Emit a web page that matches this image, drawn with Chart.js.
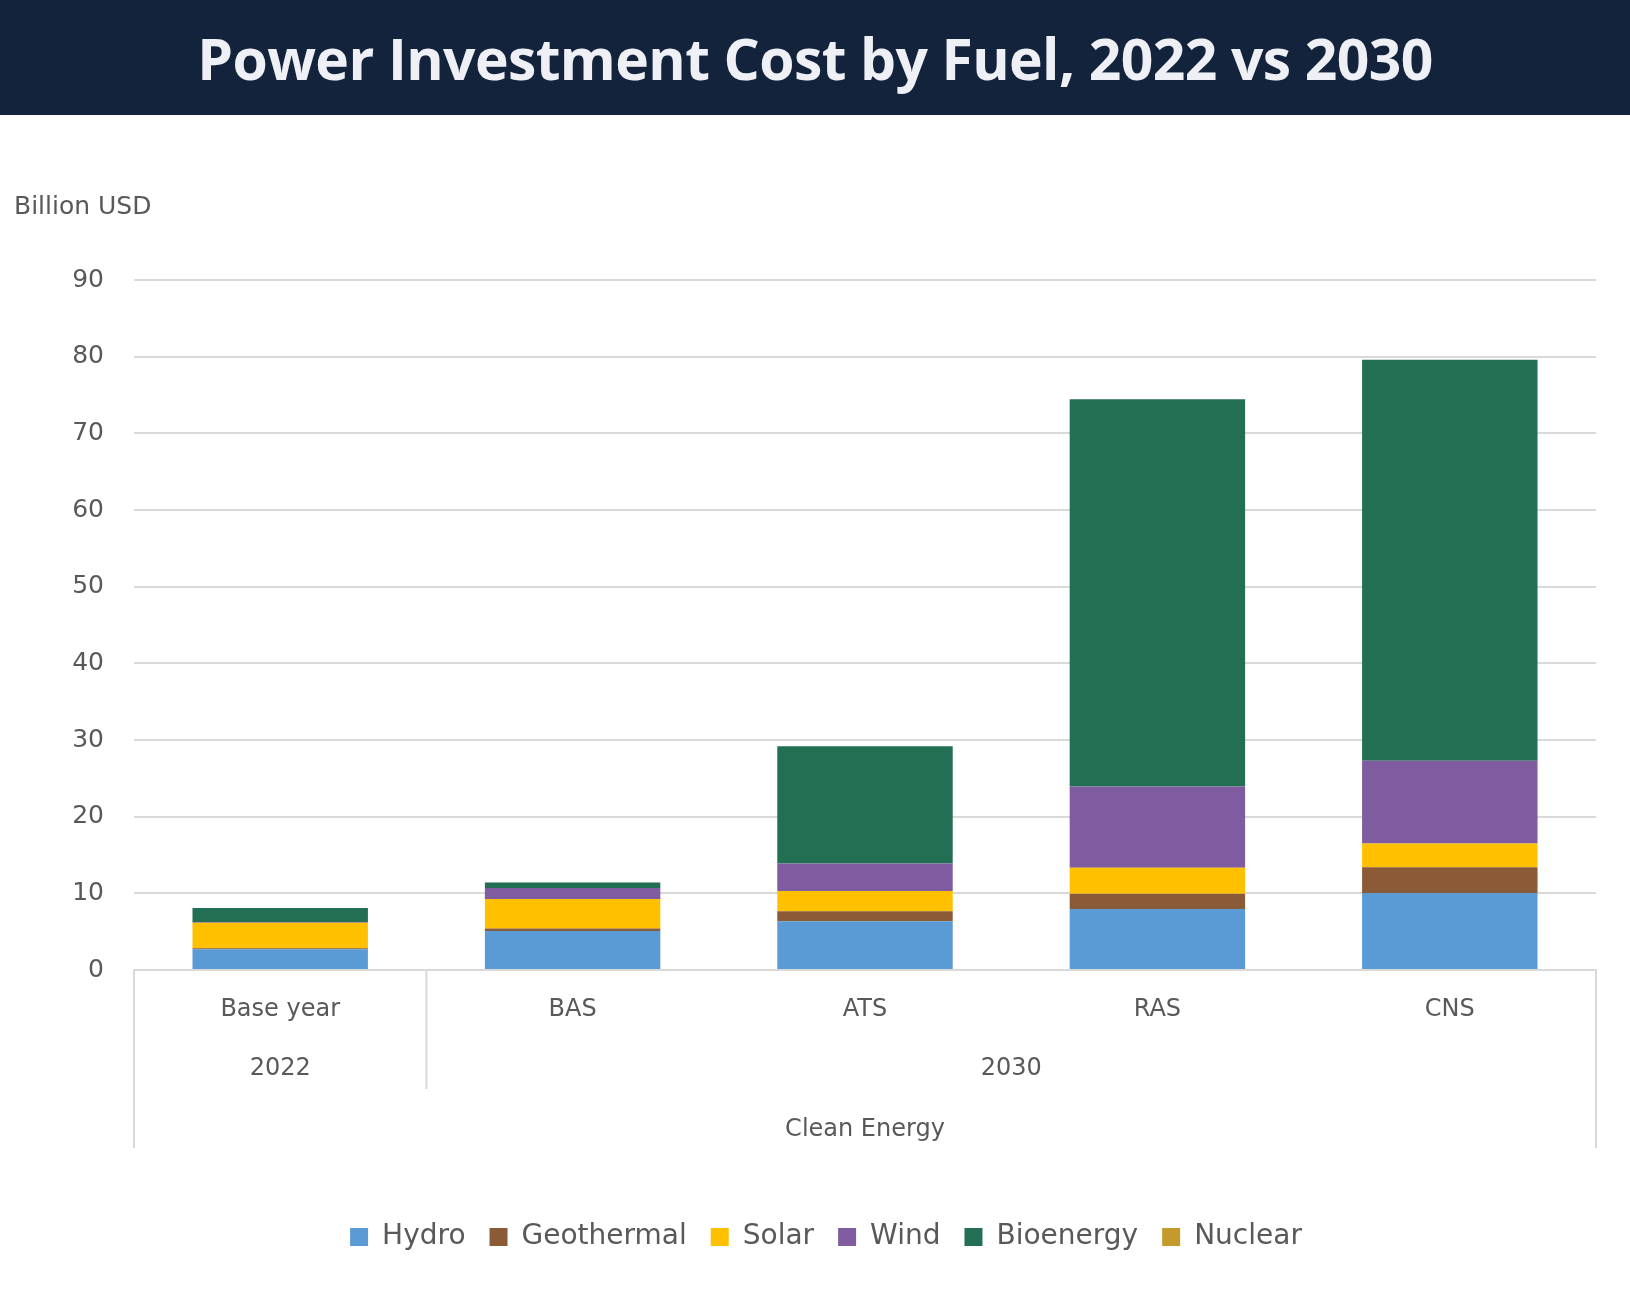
<!DOCTYPE html>
<html>
<head>
<meta charset="utf-8">
<script src="https://cdn.jsdelivr.net/npm/chart.js@4.4.1/dist/chart.umd.min.js"></script>
<style>
  html, body { margin: 0; padding: 0; background: #ffffff; }
  #header {
    width: 1630px; height: 115px; background: #13233c;
    display: flex; align-items: center; justify-content: center;
  }
  #header h1 {
    margin: 0; color: #eef0f6; font-family: "Open Sans", sans-serif;
    font-weight: 700; font-size: 57px; letter-spacing: -0.6px;
  }
  #wrap { width: 1630px; height: 1186px; position: relative; }
</style>
</head>
<body>
<div id="header"><h1>Power Investment Cost by Fuel, 2022 vs 2030</h1></div>
<div id="wrap"><canvas id="chart"></canvas></div>
<script>
// categories and groups
const categories = ["Base year", "BAS", "ATS", "RAS", "CNS"];
const years = ["2022", "2030"];
const groupLabel = "Clean Energy";

// series values (Billion USD)
const hydro = [2.7, 5.1, 6.35, 7.95, 10.05];
const geothermal = [0.15, 0.3, 1.3, 2.0, 3.35];
const solar = [3.3, 3.85, 2.65, 3.4, 3.1];
const wind = [0.1, 1.45, 3.6, 10.6, 10.8];
const bioenergy = [1.85, 0.7, 15.3, 50.5, 52.3];
const nuclear = [0, 0, 0, 0, 0];

const yTicks = [0, 10, 20, 30, 40, 50, 60, 70, 80, 90];

const fuelColors = {
  Hydro: "#5b9bd5",
  Geothermal: "#8b5a36",
  Solar: "#ffc000",
  Wind: "#7f5ba0",
  Bioenergy: "#236f54",
  Nuclear: "#c39a2b",
};

const textGrey = "#595959";
const lineGrey = "#d9d9d9";
const fontFamily = "'DejaVu Sans', sans-serif";

function makeSet(label, data) {
  return {
    label: label,
    data: data,
    backgroundColor: fuelColors[label],
    borderWidth: 0,
    barPercentage: 0.6,
    categoryPercentage: 1.0,
  };
}

// draws the "Billion USD" label and the multi-level category axis
const groupAxisPlugin = {
  id: "groupAxis",
  afterLayout(chart) {
    // legend sits a little right of centre in the original
    chart.legend.left += 28;
    chart.legend.right += 28;
  },
  afterDraw(chart) {
    const ctx = chart.ctx;
    const x = chart.scales.x;
    const area = chart.chartArea;
    const base = area.bottom;

    ctx.save();
    ctx.fillStyle = textGrey;
    ctx.font = "25px " + fontFamily;
    ctx.textAlign = "left";
    ctx.textBaseline = "middle";
    ctx.fillText("Billion USD", 14, 92);

    // separator lines
    const step = x.getPixelForValue(1) - x.getPixelForValue(0);
    const sep = x.getPixelForValue(0) + step / 2;
    ctx.strokeStyle = lineGrey;
    ctx.lineWidth = 2;
    ctx.beginPath();
    ctx.moveTo(area.left, base);
    ctx.lineTo(area.left, base + 178);
    ctx.moveTo(sep, base);
    ctx.lineTo(sep, base + 119);
    ctx.moveTo(area.right, base);
    ctx.lineTo(area.right, base + 178);
    ctx.stroke();

    // year labels
    ctx.font = "24px " + fontFamily;
    ctx.textAlign = "center";
    ctx.fillText(years[0], x.getPixelForValue(0), base + 99);
    const mid2030 = (x.getPixelForValue(1) + x.getPixelForValue(categories.length - 1)) / 2;
    ctx.fillText(years[1], mid2030, base + 99);

    // outer group label
    ctx.fillText(groupLabel, (area.left + area.right) / 2, base + 160);
    ctx.restore();
  },
};

document.addEventListener("DOMContentLoaded", function () {
  new Chart(document.getElementById("chart"), {
    type: "bar",
    data: {
      labels: categories,
      datasets: [
        makeSet("Hydro", hydro),
        makeSet("Geothermal", geothermal),
        makeSet("Solar", solar),
        makeSet("Wind", wind),
        makeSet("Bioenergy", bioenergy),
        makeSet("Nuclear", nuclear),
      ],
    },
    options: {
      responsive: true,
      maintainAspectRatio: false,
      animation: false,
      layout: {
        padding: { top: 165, right: 34, left: 0, bottom: 40 },
      },
      scales: {
        x: {
          stacked: true,
          grid: { display: false, drawTicks: false },
          border: { display: true, color: lineGrey, width: 2 },
          ticks: {
            color: textGrey,
            font: { size: 24, family: fontFamily },
            padding: 25,
          },
          afterFit: function (scale) {
            scale.height = 229;
          },
        },
        y: {
          stacked: true,
          min: 0,
          max: 90,
          afterBuildTicks: function (scale) {
            scale.ticks = yTicks.map((v) => ({ value: v }));
          },
          grid: { color: lineGrey, lineWidth: 2, drawTicks: false },
          border: { display: false },
          ticks: {
            color: textGrey,
            font: { size: 25, family: fontFamily },
            padding: 30,
          },
          afterFit: function (scale) {
            scale.width = 134;
          },
        },
      },
      plugins: {
        legend: {
          position: "bottom",
          labels: {
            color: textGrey,
            font: { size: 28, family: fontFamily },
            boxWidth: 18,
            boxHeight: 18,
            padding: 24,
          },
        },
        tooltip: { enabled: false },
      },
    },
    plugins: [groupAxisPlugin],
  });
});
</script>
</body>
</html>
